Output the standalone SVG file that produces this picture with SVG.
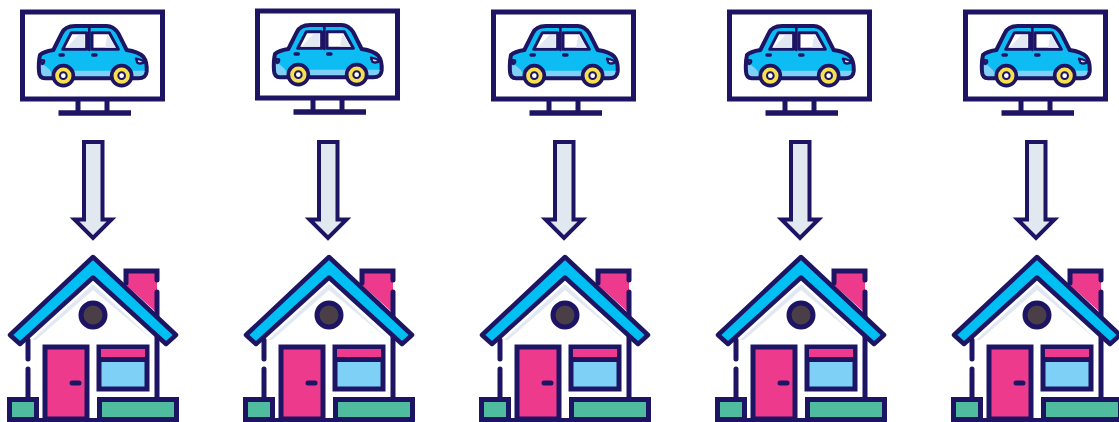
<svg xmlns="http://www.w3.org/2000/svg" width="1119" height="422" viewBox="0 0 1119 422">
<style>
.d{stroke:#1d1464;fill:none}
.k{stroke:#1d1464;stroke-linejoin:round;stroke-linecap:round}
.m{stroke:#1d1464;stroke-width:5;fill:#fff}
</style>
<defs>
<g id="monitor">
<rect class="m" x="22.500" y="12" width="140" height="87"/>
<path class="d" stroke-width="5" d="M78 100V111M107 100V111"/>
<path class="d" stroke-width="5.500" d="M58.500 113H131"/>
<g transform="translate(10 0) scale(.3333)">
<path d="M90 165Q100 155 130 150L155 100Q165 78 195 78H290Q310 78 325 100L350 150Q385 155 400 170Q412 185 410 215Q408 235 385 235H105Q88 235 87 215Q85 185 90 165Z" fill="#0cbcf2"/>
<path d="M92 190Q125 205 130 235H105Q88 235 87 215ZM190 212H305V235H190ZM365 212H409Q408 235 385 235H365Z" fill="#7fd0f7"/>
<path d="M90 165Q100 155 130 150L155 100Q165 78 195 78H290Q310 78 325 100L350 150Q385 155 400 170Q412 185 410 215Q408 235 385 235H105Q88 235 87 215Q85 185 90 165Z" class="k" fill="none" stroke-width="12"/>
<path d="M158 148L184 98H230V148ZM246 98H298L325 148H246Z" fill="#fff" stroke="#1d1464" stroke-width="9" stroke-linejoin="round"/>
<path d="M172 140L205 105H224V143H168ZM292 104L318 143H285Z" fill="#e2e8f2"/>
<path d="M238 85V150" class="k" fill="none" stroke-width="8"/>
<path d="M150 165H160M248 165H258" class="k" fill="none" stroke-width="10"/>
<path d="M92 180L102 181Q104 190 96 192ZM378 176Q392 178 405 186Q392 194 382 188Z" fill="#e2e8f2" class="k" stroke-width="7"/>
<circle cx="160" cy="227" r="30" fill="#f6e04e" stroke="#1d1464" stroke-width="11"/>
<circle cx="160" cy="227" r="10" fill="#fff" stroke="#1d1464" stroke-width="6"/>
<circle cx="335" cy="227" r="30" fill="#f6e04e" stroke="#1d1464" stroke-width="11"/>
<circle cx="335" cy="227" r="10" fill="#fff" stroke="#1d1464" stroke-width="6"/>
</g>
</g>
<g id="house">
<path d="M28 340L93 277L157 338V400H28Z" fill="#fff"/>
<path d="M32 340L93 284L153 340L148 336L93 290L36 340Z" fill="#e2e8f2"/>
<path d="M126 271H157V313L126 285Z" fill="#ee3a8c"/>
<path class="d" stroke-width="5" stroke-linecap="round" d="M157 280V271H126V283M157 292V317M28 340V359M28 369V398M157 335V398"/>
<path d="M93 257L176 335L166 344L93 277.500L20 344L10 335Z" fill="#00bff3" class="k" stroke-width="4.500"/>
<circle cx="93" cy="315" r="12" fill="#4a3f47" stroke="#1d1464" stroke-width="5"/>
<rect x="45" y="347" width="42" height="72" fill="#ee3a8c" stroke="#1d1464" stroke-width="5"/>
<path class="k" fill="none" stroke-width="5" d="M72 383H79"/>
<rect x="99" y="347" width="48" height="42" fill="#7fd0f7" stroke="#1d1464" stroke-width="5"/>
<rect x="101" y="349" width="44" height="9" fill="#ee3a8c"/>
<path class="d" stroke-width="5" d="M99 359.500H147"/>
<rect x="9.500" y="399.500" width="27" height="20" fill="#4fbb9f" stroke="#1d1464" stroke-width="5"/>
<rect x="99.500" y="399.500" width="77" height="20" fill="#4fbb9f" stroke="#1d1464" stroke-width="5"/>
<path class="d" stroke-width="4" d="M7 420H179"/>
</g>
<path id="arrow" d="M84 142H102.500V219.500H111.500L93 238L74.500 219.500H84Z" fill="#e2e8f0" stroke="#1d1464" stroke-width="4"/>
</defs>
<g id="monitor-1"><use href="#monitor"/></g>
<g id="monitor-2"><use href="#monitor" x="235" y="-1"/></g>
<g id="monitor-3"><use href="#monitor" x="471"/></g>
<g id="monitor-4"><use href="#monitor" x="707"/></g>
<g id="monitor-5"><use href="#monitor" x="943"/></g>
<g id="connectors">
<use href="#arrow"/>
<use href="#arrow" x="235"/>
<use href="#arrow" x="471"/>
<use href="#arrow" x="707"/>
<use href="#arrow" x="943"/>
</g>
<g id="house-1"><use href="#house"/></g>
<g id="house-2"><use href="#house" x="236"/></g>
<g id="house-3"><use href="#house" x="472"/></g>
<g id="house-4"><use href="#house" x="708"/></g>
<g id="house-5"><use href="#house" x="944"/></g>
</svg>
